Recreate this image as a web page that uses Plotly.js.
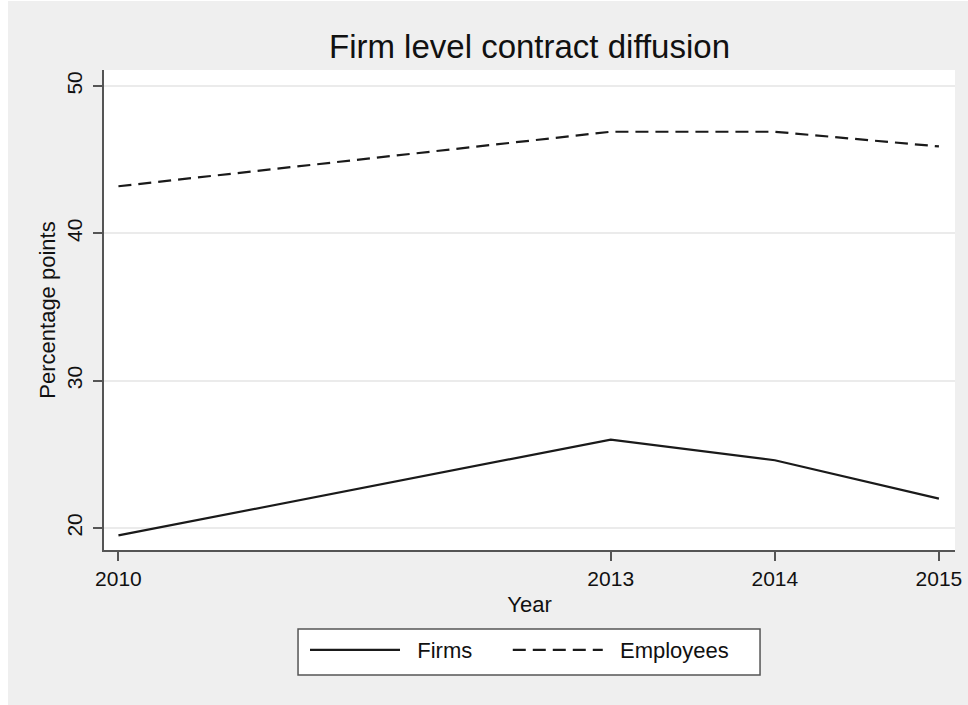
<!DOCTYPE html>
<html>
<head>
<meta charset="utf-8">
<script src="https://cdn.plot.ly/plotly-3.0.1.min.js"></script>
<style>
  html, body { margin: 0; padding: 0; background: #ffffff; }
  #chart { position: absolute; left: 8px; top: 1px; width: 960px; height: 704px; }
</style>
</head>
<body>
<div id="chart"></div>
<script>
const years = [2010, 2013, 2014, 2015];
const firms = [19.5, 26.0, 24.6, 22.0];
const employees = [43.2, 46.9, 46.9, 45.9];
const seriesNames = ["Firms", "Employees"];
const yTicks = [20, 30, 40, 50];

const FONT = "Liberation Sans, Arial, Helvetica, sans-serif";
const NB = "\u00a0";

const traces = [
  {
    x: years, y: firms, name: NB + NB + seriesNames[0] + NB.repeat(5), type: "scatter", mode: "lines",
    line: { color: "#1a1a1a", width: 2.2 }
  },
  {
    x: years, y: employees, name: NB + NB + seriesNames[1], type: "scatter", mode: "lines",
    line: { color: "#1a1a1a", width: 2.2, dash: "13px,7px" }
  }
];

const layout = {
  width: 960, height: 704,
  paper_bgcolor: "#efefef",
  plot_bgcolor: "#ffffff",
  margin: { l: 96, r: 13, t: 69, b: 155 },
  font: { family: FONT, color: "#111111", size: 21 },
  title: {
    text: "Firm level contract diffusion",
    font: { family: FONT, size: 33, color: "#111111" },
    x: 0.5, xref: "paper", xanchor: "center",
    y: 0.935, yref: "container", yanchor: "middle"
  },
  xaxis: {
    range: [2009.912, 2015.098],
    tickmode: "array", tickvals: years, ticktext: years.map(String),
    showgrid: false, zeroline: false,
    showline: true, linecolor: "#555555", linewidth: 2,
    ticks: "outside", ticklen: 9, tickwidth: 2, tickcolor: "#555555",
    tickfont: { family: FONT, size: 21, color: "#111111" },
    title: { text: "Year", font: { family: FONT, size: 22, color: "#111111" }, standoff: 7 }
  },
  yaxis: {
    range: [18.51, 51.09],
    tickmode: "array", tickvals: yTicks, ticktext: yTicks.map(String),
    tickangle: -90,
    showgrid: true, gridcolor: "#ebebeb", gridwidth: 2,
    zeroline: false,
    showline: true, linecolor: "#555555", linewidth: 2,
    ticks: "outside", ticklen: 9, tickwidth: 2, tickcolor: "#555555",
    tickfont: { family: FONT, size: 21, color: "#111111" },
    ticklabelstandoff: 3,
    title: { text: "Percentage points", font: { family: FONT, size: 22, color: "#111111" }, standoff: 1 }
  },
  shapes: [
    {
      type: "rect", xref: "paper", yref: "paper", layer: "above",
      x0: 0.228, x1: 0.7709, y0: -0.1646, y1: -0.2604,
      fillcolor: "#ffffff", line: { color: "#555555", width: 1.5 }
    }
  ],
  showlegend: true,
  legend: {
    orientation: "h",
    x: 0.2362, xref: "paper", xanchor: "left",
    y: (704 - 628) / 704, yref: "container", yanchor: "top",
    bgcolor: "rgba(0,0,0,0)", borderwidth: 0,
    font: { family: FONT, size: 22, color: "#111111" },
    itemwidth: 90
  }
};

Plotly.newPlot("chart", traces, layout, { displayModeBar: false, staticPlot: true });
</script>
</body>
</html>
